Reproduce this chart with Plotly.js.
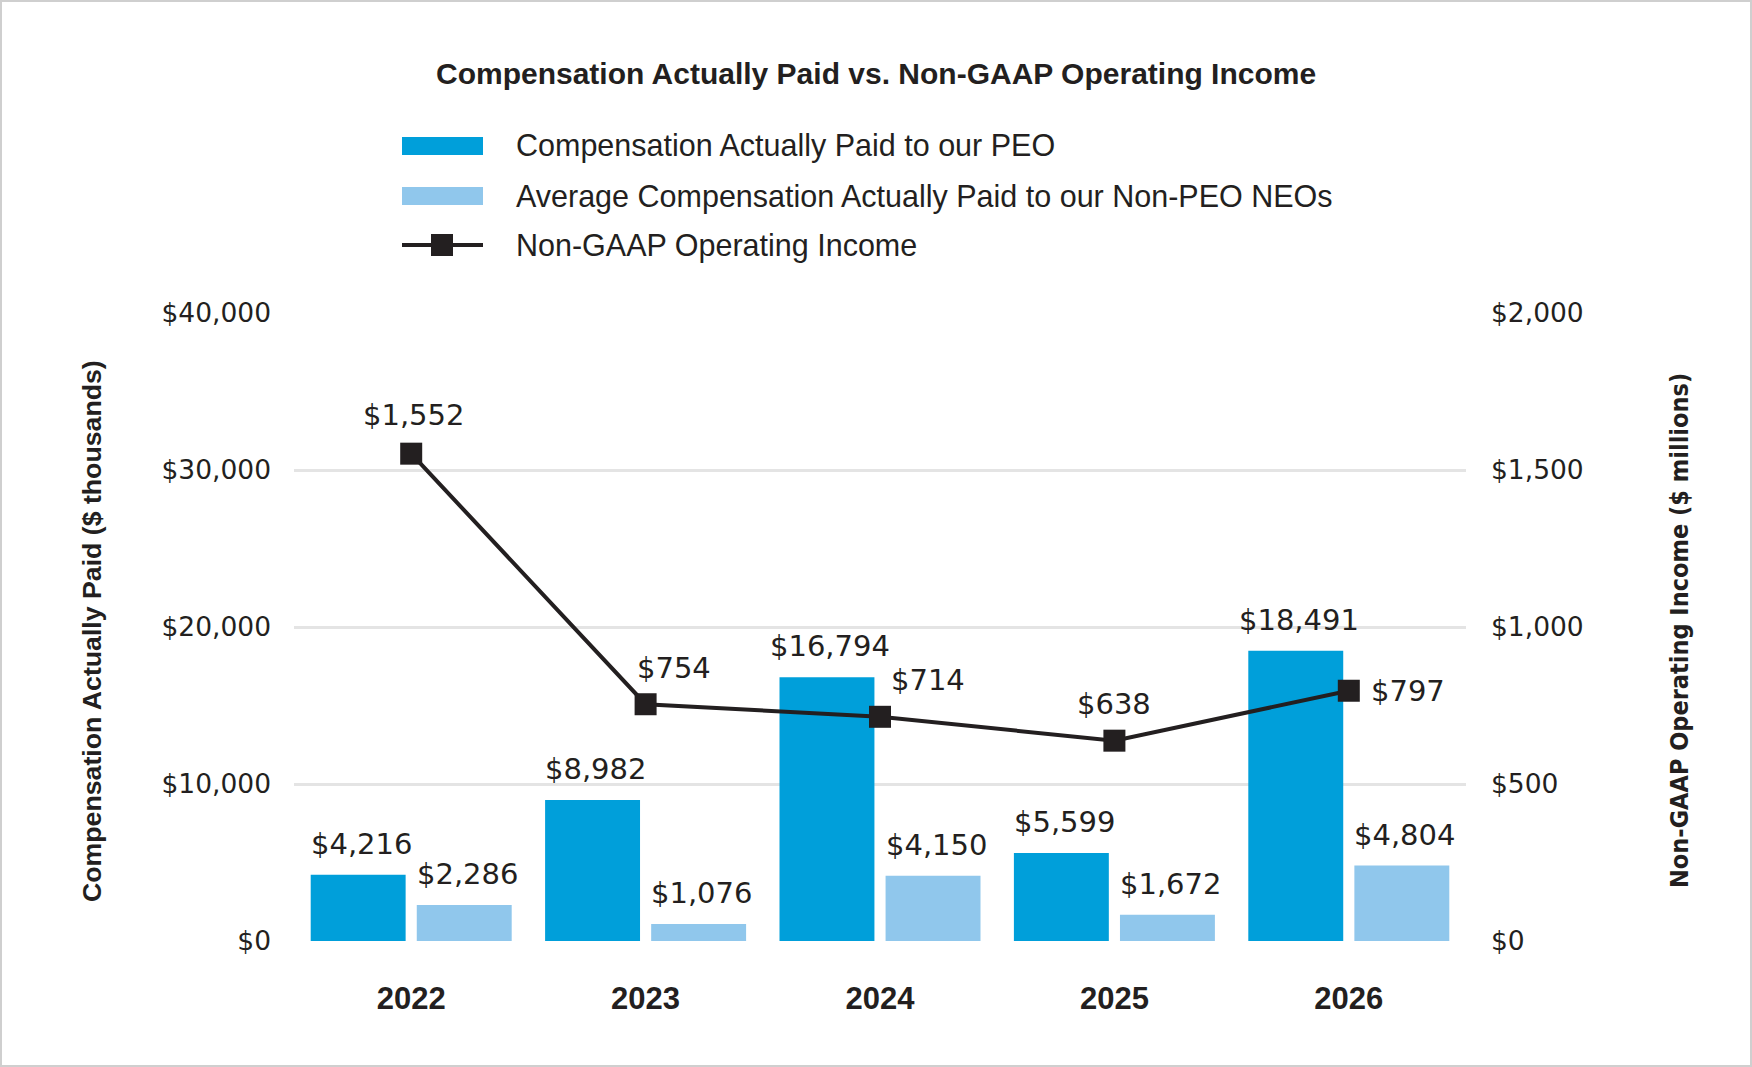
<!DOCTYPE html>
<html>
<head>
<meta charset="utf-8">
<script src="https://cdn.plot.ly/plotly-3.0.1.min.js"></script>
<style>
  html, body { margin: 0; padding: 0; background: #ffffff; }
  #wrap { position: relative; width: 1752px; height: 1067px; }
  #chart { width: 1752px; height: 1067px; }
  #frame { position: absolute; left: 0; top: 0; width: 1748px; height: 1063px; border: 2px solid #cfcfcf; pointer-events: none; }
</style>
</head>
<body>
<div id="wrap"><div id="chart"></div><div id="frame"></div></div>
<script>
// ---- data ----
const years = ['2022', '2023', '2024', '2025', '2026'];
const peoCap = [4216, 8982, 16794, 5599, 18491];
const neoCap = [2286, 1076, 4150, 1672, 4804];
const opIncome = [1552, 754, 714, 638, 797];
const seriesNames = [
  'Compensation Actually Paid to our PEO',
  'Average Compensation Actually Paid to our Non-PEO NEOs',
  'Non-GAAP Operating Income'
];
const leftTicks = [0, 10000, 20000, 30000, 40000];
const rightTicks = [0, 500, 1000, 1500, 2000];
const chartTitle = 'Compensation Actually Paid vs. Non-GAAP Operating Income';
const leftAxisTitle = 'Compensation Actually Paid ($ thousands)';
const rightAxisTitle = 'Non-GAAP Operating Income ($ millions)';

// ---- styles ----
const C_PEO = '#009fda';
const C_NEO = '#90c7ec';
const C_LINE = '#231f20';
const TXT = '#231f20';
const GRID = '#e4e4e4';
const numFont = {family: 'DejaVu Sans', size: 26.5, color: TXT};
const lblFont = {family: 'DejaVu Sans', size: 29, color: TXT};

const W = 1752, H = 1067;
const M = {l: 294, r: 286, t: 313, b: 126};
const PW = W - M.l - M.r, PH = H - M.t - M.b;
const px = x => (x - M.l) / PW;       // pixel -> paper x
const py = y => (H - M.b - y) / PH;   // pixel -> paper y

const fmt = v => '$' + v.toLocaleString('en-US');

const traces = [
  {type: 'bar', name: seriesNames[0], x: years, y: peoCap, yaxis: 'y',
   marker: {color: C_PEO}, hoverinfo: 'skip'},
  {type: 'bar', name: seriesNames[1], x: years, y: neoCap, yaxis: 'y',
   marker: {color: C_NEO}, hoverinfo: 'skip'},
  {type: 'scatter', mode: 'lines+markers', name: seriesNames[2], x: years, y: opIncome, yaxis: 'y2',
   line: {color: C_LINE, width: 4}, marker: {symbol: 'square', size: 22, color: C_LINE},
   cliponaxis: false, hoverinfo: 'skip'}
];

const annotations = [];
// bar value labels (x given as category index)
const barShift = 53;
years.forEach((yr, i) => {
  annotations.push({x: i, y: peoCap[i], xref: 'x', yref: 'y', text: fmt(peoCap[i]),
    showarrow: false, xanchor: 'center', yanchor: 'bottom', xshift: -barShift + 3, yshift: 12, font: lblFont});
  annotations.push({x: i, y: neoCap[i], xref: 'x', yref: 'y', text: fmt(neoCap[i]),
    showarrow: false, xanchor: 'center', yanchor: 'bottom', xshift: barShift + 3, yshift: 12, font: lblFont});
});
// line value labels (pixel offsets from the marker)
const lineLabelShift = [[2, 39], [28, 36], [48, 37], [0, 37], [59, 0]];
years.forEach((yr, i) => {
  annotations.push({x: i, y: opIncome[i], xref: 'x', yref: 'y2', text: fmt(opIncome[i]),
    showarrow: false, xanchor: 'center', yanchor: 'middle',
    xshift: lineLabelShift[i][0], yshift: lineLabelShift[i][1], font: lblFont});
});
// title
annotations.push({xref: 'paper', yref: 'paper', x: px(876), y: py(73), text: '<b>' + chartTitle + '</b>',
  showarrow: false, xanchor: 'center', yanchor: 'middle',
  font: {family: 'Liberation Sans', size: 30, color: TXT}});
// axis titles
annotations.push({xref: 'paper', yref: 'paper', x: px(92), y: py(631), text: '<b>' + leftAxisTitle + '</b>',
  textangle: -90, showarrow: false, xanchor: 'center', yanchor: 'middle',
  font: {family: 'Liberation Sans', size: 26.7, color: TXT}});
annotations.push({xref: 'paper', yref: 'paper', x: px(1679), y: py(631), text: '<b>' + rightAxisTitle + '</b>',
  textangle: -90, showarrow: false, xanchor: 'center', yanchor: 'middle',
  font: {family: 'DejaVu Sans Condensed, DejaVu Sans', stretch: 'condensed', size: 25, color: TXT}});

// custom legend
const legRows = [146, 196, 245];
const legX0 = 402, legX1 = 483, legTextX = 514;
const shapes = [];
shapes.push({type: 'rect', xref: 'paper', yref: 'paper', x0: px(legX0), x1: px(legX1),
  y0: py(legRows[0] - 9), y1: py(legRows[0] + 9), fillcolor: C_PEO, line: {width: 0}});
shapes.push({type: 'rect', xref: 'paper', yref: 'paper', x0: px(legX0), x1: px(legX1),
  y0: py(legRows[1] - 9), y1: py(legRows[1] + 9), fillcolor: C_NEO, line: {width: 0}});
shapes.push({type: 'line', xref: 'paper', yref: 'paper', x0: px(legX0), x1: px(legX1),
  y0: py(legRows[2]), y1: py(legRows[2]), line: {color: C_LINE, width: 4}});
shapes.push({type: 'rect', xref: 'paper', yref: 'paper', x0: px(431), x1: px(453),
  y0: py(legRows[2] - 11), y1: py(legRows[2] + 11), fillcolor: C_LINE, line: {width: 0}});
seriesNames.forEach((nm, i) => {
  annotations.push({xref: 'paper', yref: 'paper', x: px(legTextX), y: py(legRows[i]), text: nm,
    showarrow: false, xanchor: 'left', yanchor: 'middle',
    font: {family: 'Liberation Sans', size: 30.5, color: TXT}});
});

const layout = {
  width: W, height: H,
  margin: M,
  paper_bgcolor: '#ffffff', plot_bgcolor: '#ffffff',
  showlegend: false,
  barmode: 'group', bargap: 0.095, bargroupgap: 0.105,
  xaxis: {type: 'category', range: [-0.5, 4.5], showgrid: false, zeroline: false, showline: false,
    ticks: '', ticklabelstandoff: 36,
    tickfont: {family: 'Liberation Sans', size: 31, color: TXT, weight: 'bold'}},
  yaxis: {range: [0, 40000], tickmode: 'array', tickvals: leftTicks, ticktext: leftTicks.map(fmt),
    showgrid: true, gridcolor: GRID, gridwidth: 3, zeroline: false, showline: false,
    ticks: '', ticklabelstandoff: 22, tickfont: numFont},
  yaxis2: {range: [0, 2000], tickmode: 'array', tickvals: rightTicks, ticktext: rightTicks.map(fmt),
    overlaying: 'y', side: 'right', showgrid: false, zeroline: false, showline: false,
    ticks: '', ticklabelstandoff: 24, tickfont: numFont},
  annotations: annotations,
  shapes: shapes
};

Plotly.newPlot('chart', traces, layout, {displayModeBar: false, staticPlot: true});
</script>
</body>
</html>
